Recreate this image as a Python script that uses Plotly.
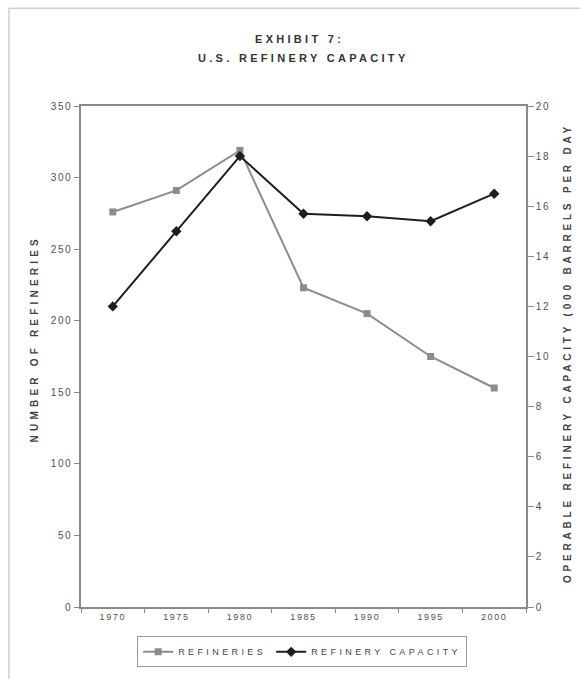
import plotly.graph_objects as go

# U.S. refinery counts and operable capacity, 1970-2000
years = ["1970", "1975", "1980", "1985", "1990", "1995", "2000"]
refineries = [276, 291, 319, 223, 205, 175, 153]
capacity = [12.0, 15.0, 18.0, 15.7, 15.6, 15.4, 16.5]

left_ticks = [0, 50, 100, 150, 200, 250, 300, 350]
right_ticks = [0, 2, 4, 6, 8, 10, 12, 14, 16, 18, 20]

FONT = "Liberation Sans, Arial, sans-serif"
AXIS_GREY = "#8a8a8a"
TEXT_GREY = "#505050"


def spaced(text, px):
    return f'<span style="letter-spacing:{px}px">{text}</span>'


fig = go.Figure()

fig.add_trace(go.Scatter(
    x=years, y=refineries, name=spaced("REFINERIES", 3.4),
    mode="lines+markers",
    line=dict(color="#8c8c8c", width=2),
    marker=dict(symbol="square", size=7, color="#8c8c8c"),
    yaxis="y",
))
fig.add_trace(go.Scatter(
    x=years, y=capacity, name=spaced("REFINERY CAPACITY", 3.4),
    mode="lines+markers",
    line=dict(color="#1e1e1e", width=2),
    marker=dict(symbol="diamond", size=8, color="#1e1e1e"),
    yaxis="y2",
))

fig.update_layout(
    width=580, height=679,
    margin=dict(l=81, r=54, t=106, b=60),
    paper_bgcolor="white", plot_bgcolor="white",
    font=dict(family=FONT, size=9, color=TEXT_GREY),
    showlegend=True,
    legend=dict(
        orientation="h", x=0.497, xanchor="center", y=-0.0895, yanchor="middle",
        bordercolor="#9a9a9a", borderwidth=1,
        font=dict(family=FONT, size=9, color="#444444"),
        itemwidth=30, tracegroupgap=0,
    ),
    xaxis=dict(
        type="category", range=[-0.5, 6.5],
        showline=True, linecolor=AXIS_GREY, linewidth=1.5, mirror=True,
        ticks="outside", ticklen=4, tickcolor=AXIS_GREY, tickson="boundaries",
        tickmode="array", tickvals=years,
        ticktext=[spaced(y, 1.6) for y in years],
        tickfont=dict(size=9, color=TEXT_GREY),
        showgrid=False, zeroline=False,
    ),
    yaxis=dict(
        range=[0, 350],
        showline=True, linecolor=AXIS_GREY, linewidth=1.5,
        ticks="outside", ticklen=5, tickcolor=AXIS_GREY,
        tickmode="array", tickvals=left_ticks,
        ticktext=[spaced(str(v), 1.6) for v in left_ticks],
        tickfont=dict(size=10, color=TEXT_GREY),
        showgrid=False, zeroline=False,
    ),
    yaxis2=dict(
        range=[0, 20], overlaying="y", side="right",
        showline=True, linecolor=AXIS_GREY, linewidth=1.5,
        ticks="outside", ticklen=6, tickcolor=AXIS_GREY,
        tickmode="array", tickvals=right_ticks,
        ticktext=[spaced(str(v), 1.6) for v in right_ticks],
        tickfont=dict(size=10, color=TEXT_GREY),
        showgrid=False, zeroline=False,
    ),
)

# Titles
fig.add_annotation(
    text="<b>" + spaced("EXHIBIT 7:", 3.3) + "</b>",
    xref="paper", yref="paper", x=0.49, y=(619 - 37) / 513,
    xanchor="center", yanchor="middle", showarrow=False,
    font=dict(family=FONT, size=11, color="#333333"),
)
fig.add_annotation(
    text="<b>" + spaced("U.S. REFINERY CAPACITY", 3.3) + "</b>",
    xref="paper", yref="paper", x=0.5, y=(619 - 57) / 513,
    xanchor="center", yanchor="middle", showarrow=False,
    font=dict(family=FONT, size=11, color="#333333"),
)

# Axis titles
fig.add_annotation(
    text="<b>" + spaced("NUMBER OF REFINERIES", 4.2) + "</b>",
    xref="paper", yref="paper", x=(34 - 81) / 445, y=(619 - 345) / 513,
    xanchor="center", yanchor="middle", textangle=-90, showarrow=False,
    font=dict(family=FONT, size=10, color="#444444"),
)
fig.add_annotation(
    text="<b>" + spaced("OPERABLE REFINERY CAPACITY (000 BARRELS PER DAY", 3.8) + "</b>",
    xref="paper", yref="paper", x=(567 - 81) / 445, y=(619 - 359) / 513,
    xanchor="center", yanchor="middle", textangle=-90, showarrow=False,
    font=dict(family=FONT, size=10, color="#444444"),
)

# Light frame around the exhibit
fx = (9 - 81) / 445
fy = (619 - 6) / 513
fig.add_shape(type="line", xref="paper", yref="paper",
              x0=fx, y0=-0.2, x1=fx, y1=fy,
              line=dict(color="#cfcfcf", width=1.5))
fig.add_shape(type="line", xref="paper", yref="paper",
              x0=fx, y0=fy, x1=1.2, y1=fy,
              line=dict(color="#cfcfcf", width=1.5))

fig.write_html("out.html")
